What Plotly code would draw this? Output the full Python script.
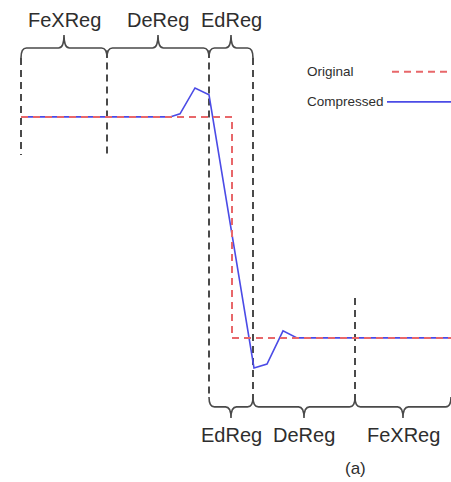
import plotly.graph_objects as go

# ---- data (x: sample position, y: normalised signal level) ----
orig_x = [0, 21.1, 21.1, 43.0]
orig_y = [1.0, 1.0, 0.0, 0.0]

comp_x = [0, 14.9, 15.9, 17.4, 18.8, 23.3, 24.6, 26.2, 27.6, 43.0]
comp_y = [1.0, 1.0, 1.014, 1.131, 1.10, -0.136, -0.118, 0.032, 0.0, 0.0]

# region boundaries
top_bounds = [0, 8.6, 18.8, 23.2]
top_labels = ["FeXReg", "DeReg", "EdReg"]
bot_bounds = [18.8, 23.2, 33.4, 43.0]
bot_labels = ["EdReg", "DeReg", "FeXReg"]

# vertical boundary lines: (x, y_top, y_bottom)
vlines = [(0, 1.267, 0.828), (8.6, 1.30, 0.828), (18.8, 1.30, -0.267),
          (23.2, 1.267, -0.30), (33.4, 0.181, -0.30)]

RED = "#e8676a"
BLUE = "#4b4be6"
GRAY = "#4a4a4a"
TXT = "#2e2e2e"
FONT = "Liberation Sans, Arial, sans-serif"

fig = go.Figure()

fig.add_trace(go.Scatter(x=comp_x, y=comp_y, mode="lines",
                         line=dict(color=BLUE, width=1.6), name="Compressed",
                         showlegend=False, hoverinfo="skip"))
fig.add_trace(go.Scatter(x=orig_x, y=orig_y, mode="lines",
                         line=dict(color=RED, width=2, dash="7px,5px"), name="Original",
                         showlegend=False, hoverinfo="skip"))

shapes = []
for x, y0, y1 in vlines:
    shapes.append(dict(type="line", xref="x", yref="y", x0=x, x1=x, y0=y0, y1=y1,
                       line=dict(color=GRAY, width=2, dash="7px,5px"), layer="below"))


def brace(x0, x1, yend, ybody, ytip, r=0.55):
    xm = (x0 + x1) / 2
    return (f"M {x0},{yend} Q {x0},{ybody} {x0 + r},{ybody} L {xm - r},{ybody} "
            f"Q {xm},{ybody} {xm},{ytip} Q {xm},{ybody} {xm + r},{ybody} "
            f"L {x1 - r},{ybody} Q {x1},{ybody} {x1},{yend}")


annotations = []
for i, lab in enumerate(top_labels):
    a, b = top_bounds[i], top_bounds[i + 1]
    shapes.append(dict(type="path", xref="x", yref="y",
                       path=brace(a, b, 1.267, 1.312, 1.371),
                       line=dict(color=GRAY, width=1.6)))
    annotations.append(dict(x=(a + b) / 2, y=1.44, xref="x", yref="y", text=lab,
                            showarrow=False, font=dict(size=20, color=TXT, family=FONT)))

for i, lab in enumerate(bot_labels):
    a, b = bot_bounds[i], bot_bounds[i + 1]
    shapes.append(dict(type="path", xref="x", yref="y",
                       path=brace(a, b, -0.267, -0.312, -0.362),
                       line=dict(color=GRAY, width=1.6)))
    annotations.append(dict(x=(a + b) / 2, y=-0.44, xref="x", yref="y", text=lab,
                            showarrow=False, font=dict(size=20, color=TXT, family=FONT)))

annotations.append(dict(x=33.4, y=-0.59, xref="x", yref="y", text="(a)", showarrow=False,
                        font=dict(size=17, color=TXT, family=FONT)))

# legend
annotations.append(dict(x=28.4, y=1.204, xref="x", yref="y", text="Original", showarrow=False,
                        xanchor="left", font=dict(size=13.5, color=TXT, family=FONT)))
annotations.append(dict(x=28.4, y=1.068, xref="x", yref="y", text="Compressed", showarrow=False,
                        xanchor="left", font=dict(size=13.5, color=TXT, family=FONT)))
shapes.append(dict(type="line", xref="x", yref="y", x0=37.1, x1=43.0, y0=1.204, y1=1.204,
                   line=dict(color=RED, width=2, dash="7px,5px")))
shapes.append(dict(type="line", xref="x", yref="y", x0=36.6, x1=43.0, y0=1.068, y1=1.068,
                   line=dict(color=BLUE, width=1.6)))

fig.update_layout(
    width=451, height=482,
    margin=dict(l=0, r=0, t=0, b=0),
    paper_bgcolor="white", plot_bgcolor="white",
    xaxis=dict(range=[-2.1, 43.0], visible=False, fixedrange=True),
    yaxis=dict(range=[-0.652, 1.529], visible=False, fixedrange=True),
    shapes=shapes, annotations=annotations, showlegend=False,
)

fig.write_html("out.html", config={"displayModeBar": False},
               post_script="document.body.style.margin='0';document.body.style.overflow='hidden';")
